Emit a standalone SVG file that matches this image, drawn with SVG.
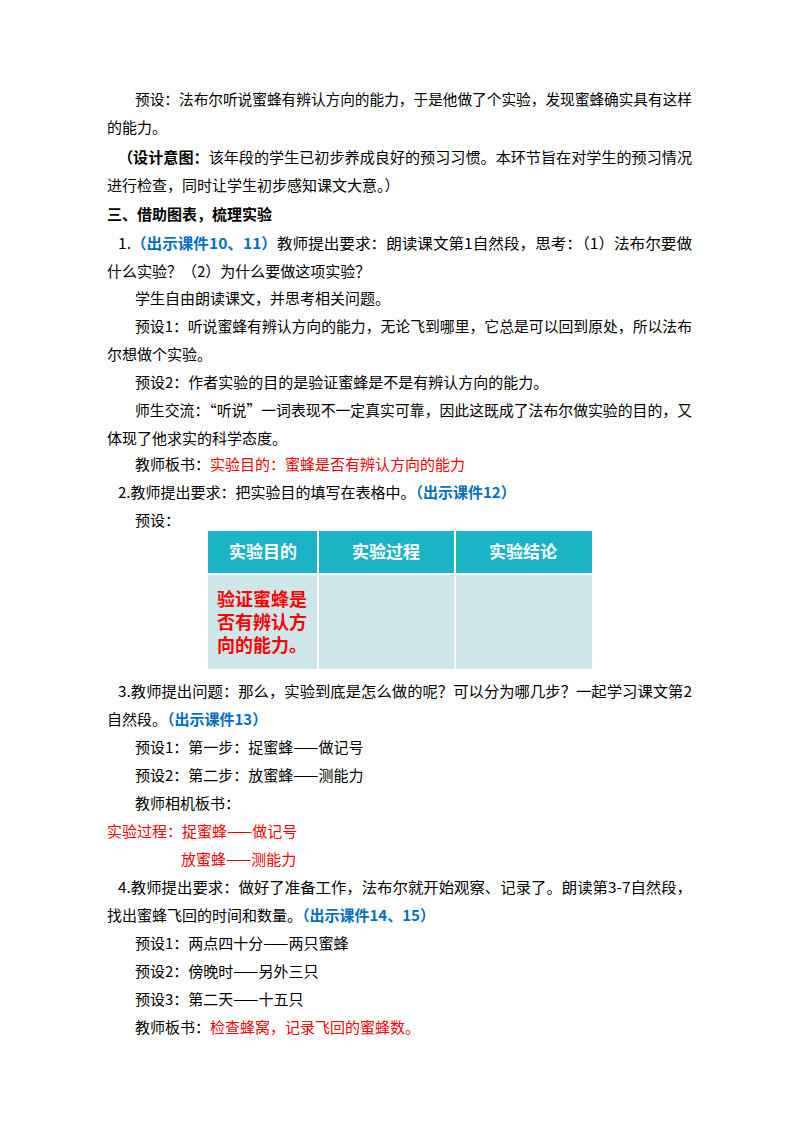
<svg xmlns="http://www.w3.org/2000/svg" width="800" height="1132" viewBox="0 0 800 1132">
<style>
text{font-family:"Noto Sans CJK SC","Noto Sans",sans-serif;font-size:15px;fill:#000}
.b{font-weight:bold}
.r{fill:#FF0000}
.u{fill:#0070C0;font-weight:bold}
.h{fill:#fff;font-weight:bold;font-size:17px}
.t{fill:#FF0000;font-weight:bold;font-size:18px}
</style>
<rect width="800" height="1132" fill="#fff"/>
<text x="135" y="105" textLength="557" lengthAdjust="spacingAndGlyphs">预设：法布尔听说蜜蜂有辨认方向的能力，于是他做了个实验，发现蜜蜂确实具有这样</text>
<text x="107" y="133">的能力。</text>
<text x="118" y="163" textLength="574" lengthAdjust="spacingAndGlyphs" font-size="14"><tspan class="b">（设计意图：</tspan>该年段的学生已初步养成良好的预习习惯。本环节旨在对学生的预习情况</text>
<text x="107" y="191" font-size="14">进行检查，同时让学生初步感知课文大意。）</text>
<text x="107" y="220" class="b">三、借助图表，梳理实验</text>
<text x="118" y="249" textLength="574" lengthAdjust="spacingAndGlyphs">1.<tspan class="u">（出示课件10、11）</tspan>教师提出要求：朗读课文第1自然段，思考：（1）法布尔要做</text>
<text x="107" y="277">什么实验？（2）为什么要做这项实验？</text>
<text x="135" y="304">学生自由朗读课文，并思考相关问题。</text>
<text x="135" y="332" textLength="557" lengthAdjust="spacingAndGlyphs">预设1：听说蜜蜂有辨认方向的能力，无论飞到哪里，它总是可以回到原处，所以法布</text>
<text x="107" y="360">尔想做个实验。</text>
<text x="135" y="388">预设2：作者实验的目的是验证蜜蜂是不是有辨认方向的能力。</text>
<text x="135" y="416" textLength="557" lengthAdjust="spacingAndGlyphs">师生交流：“听说”一词表现不一定真实可靠，因此这既成了法布尔做实验的目的，又</text>
<text x="107" y="444">体现了他求实的科学态度。</text>
<text x="135" y="470">教师板书：<tspan class="r">实验目的：蜜蜂是否有辨认方向的能力</tspan></text>
<text x="118" y="498">2.教师提出要求：把实验目的填写在表格中。<tspan class="u">（出示课件12）</tspan></text>
<text x="135" y="526">预设：</text>
<g id="table">
<rect x="208" y="531" width="384" height="42" fill="#1BB3C6"/>
<rect x="208" y="575" width="384" height="94" fill="#CCE6EA"/>
<line x1="318" y1="531" x2="318" y2="669" stroke="#fff" stroke-width="2"/>
<line x1="455" y1="531" x2="455" y2="669" stroke="#fff" stroke-width="2"/>
<text x="263" y="558" class="h" text-anchor="middle">实验目的</text>
<text x="386" y="558" class="h" text-anchor="middle">实验过程</text>
<text x="523" y="558" class="h" text-anchor="middle">实验结论</text>
<text x="217" y="606" class="t">验证蜜蜂是</text>
<text x="217" y="629" class="t">否有辨认方</text>
<text x="217" y="652" class="t">向的能力。</text>
</g>
<text x="118" y="697" textLength="574" lengthAdjust="spacingAndGlyphs">3.教师提出问题：那么，实验到底是怎么做的呢？可以分为哪几步？一起学习课文第2</text>
<text x="107" y="725">自然段。<tspan class="u">（出示课件13）</tspan></text>
<text x="135" y="753">预设1：第一步：捉蜜蜂——做记号</text>
<text x="135" y="781">预设2：第二步：放蜜蜂——测能力</text>
<text x="135" y="809">教师相机板书：</text>
<text x="107" y="837" class="r">实验过程：捉蜜蜂——做记号</text>
<text x="181" y="865" class="r">放蜜蜂——测能力</text>
<text x="118" y="893" textLength="574" lengthAdjust="spacingAndGlyphs">4.教师提出要求：做好了准备工作，法布尔就开始观察、记录了。朗读第3-7自然段，</text>
<text x="107" y="921">找出蜜蜂飞回的时间和数量。<tspan class="u">（出示课件14、15）</tspan></text>
<text x="135" y="949">预设1：两点四十分——两只蜜蜂</text>
<text x="135" y="977">预设2：傍晚时——另外三只</text>
<text x="135" y="1005">预设3：第二天——十五只</text>
<text x="135" y="1033">教师板书：<tspan class="r">检查蜂窝，记录飞回的蜜蜂数。</tspan></text>
</svg>
